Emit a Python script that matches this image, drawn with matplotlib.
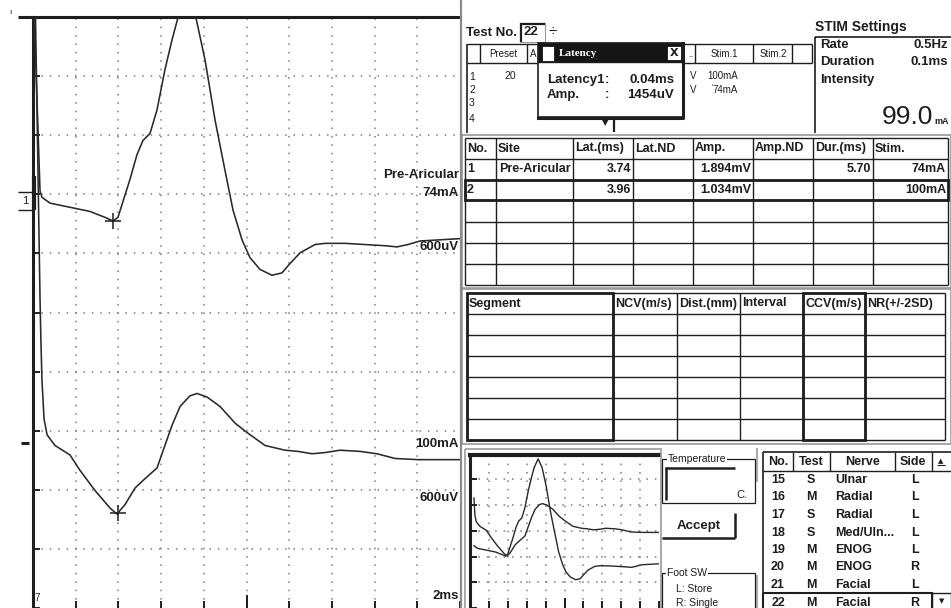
import numpy as np
import matplotlib
matplotlib.use("Agg")
import matplotlib.pyplot as plt
from matplotlib.patches import Rectangle

plt.rcParams["font.family"] = ["Liberation Sans Narrow", "Liberation Sans", "DejaVu Sans"]

W, H = 951, 608
INK = "#1e1e1e"
GRID = "#7a7a7a"

# ---- waveforms: time (ms), amplitude (mV) relative to each trace baseline ----
t1_ms = [0.00, 0.33, 0.42, 0.80, 1.87, 2.67, 3.37, 3.75, 3.98, 4.54, 4.87, 5.15,
         5.48, 5.81, 6.18, 6.51, 6.79, 7.21, 7.63, 8.06, 8.53, 8.99, 9.37, 9.79,
         10.16, 10.63, 11.19, 11.66, 12.04, 12.51, 13.21, 13.68, 14.61, 15.55,
         16.49, 17.05, 17.56, 18.13, 19.06, 20.00]
v1_mv = [1.84, 0.05, 0.00, -0.05, -0.09, -0.12, -0.17, -0.20, -0.17, 0.15, 0.36, 0.48,
         0.54, 0.74, 1.08, 1.33, 1.52, 1.69, 1.52, 1.16, 0.65, 0.23, -0.11, -0.36,
         -0.51, -0.61, -0.66, -0.64, -0.56, -0.47, -0.40, -0.39, -0.39, -0.40,
         -0.41, -0.42, -0.40, -0.37, -0.36, -0.35]

t2_ms = [0.09, 0.33, 0.37, 0.42, 0.52, 0.66, 1.03, 1.73, 2.20, 2.90, 3.61, 3.93,
         4.31, 4.78, 5.25, 5.81, 6.18, 6.51, 6.89, 7.35, 7.68, 8.15, 8.76, 9.46,
         10.02, 10.87, 11.80, 12.41, 13.07, 13.68, 14.38, 15.32, 16.11, 16.96,
         18.03, 20.00]
v2_mv = [3.92, 1.21, 0.87, 0.53, 0.20, 0.07, -0.02, -0.10, -0.23, -0.40, -0.55, -0.60,
         -0.52, -0.38, -0.30, -0.21, -0.02, 0.15, 0.31, 0.40, 0.42, 0.39, 0.31, 0.17,
         0.09, -0.02, -0.06, -0.07, -0.09, -0.08, -0.06, -0.07, -0.09, -0.13,
         -0.14, -0.14]

mv_per_div = 0.5
ms_per_div = 2.0
base_div = [6.95, 2.79]          # trace baselines on the main screen
mini_shift = [-4.53, 0.43]       # trace offsets on the overview screen
mini_start_ms = 0.4              # overview hides the stimulus artefact

# ---- tables ----
lat_ms = [3.74, 3.96]
res_headers = ["No.", "Site", "Lat.(ms)", "Lat.ND", "Amp.", "Amp.ND", "Dur.(ms)", "Stim."]
res_rows = [["1", "Pre-Aricular", "3.74", "", "1.894mV", "", "5.70", "74mA"],
            ["2", "", "3.96", "", "1.034mV", "", "", "100mA"]]
seg_headers = ["Segment", "NCV(m/s)", "Dist.(mm)", "Interval", "CCV(m/s)", "NR(+/-2SD)"]

list_no = ["15", "16", "17", "18", "19", "20", "21", "22"]
list_test = ["S", "M", "S", "S", "M", "M", "M", "M"]
list_nerve = ["Ulnar", "Radial", "Radial", "Med/Uln...", "ENOG", "ENOG", "Facial", "Facial"]
list_side = ["L", "L", "L", "L", "L", "R", "L", "R"]

preset_rows = ["1", "2", "3", "4"]
preset_stim1 = ["100mA", "74mA"]

fig = plt.figure(figsize=(W / 100, H / 100), dpi=100)
fig.patch.set_facecolor("white")


def px_axes(x0, x1, ytop, ybot):
    return fig.add_axes([x0 / W, 1 - ybot / H, (x1 - x0) / W, (ybot - ytop) / H])


def scope(ax, nx, ny_top):
    for i in range(1, nx):
        ax.axvline(i * ms_per_div, color=GRID, lw=1.1, ls=(0, (1, 4.5)), zorder=1)
    for j in range(1, ny_top):
        ax.axhline(j, color=GRID, lw=1.1, ls=(0, (1, 4.5)), zorder=1)
    ax.set_xlim(0, nx * ms_per_div)
    ax.set_xticks(np.arange(0, nx * ms_per_div + 0.1, ms_per_div))
    ax.set_yticks(range(0, ny_top + 1))
    ax.tick_params(direction="in", length=5, width=1.4, labelbottom=False,
                   labelleft=False, colors=INK)
    for s in ["right", "bottom"]:
        ax.spines[s].set_visible(False)
    ax.spines["top"].set_linewidth(2.2)
    ax.spines["left"].set_linewidth(2.2)
    ax.spines["top"].set_color(INK)
    ax.spines["left"].set_color(INK)


# ---- main waveform screen ----
ax = px_axes(33, 460, 17, 608)
scope(ax, 10, 10)
ax.set_ylim(0, 10)
ax.plot([10, 10], [0, 0.2], color=INK, lw=1.4)
for t, v, b in [(t1_ms, v1_mv, base_div[0]), (t2_ms, v2_mv, base_div[1])]:
    y = b + np.array(v) / mv_per_div
    ax.plot(t, y, color="#2a2a2a", lw=1.15, zorder=3)
for lat, t, v, b in [(lat_ms[0], t1_ms, v1_mv, base_div[0]), (lat_ms[1], t2_ms, v2_mv, base_div[1])]:
    ax.plot(lat, b + np.interp(lat, t, v) / mv_per_div, marker="+", ms=11, mew=1.1,
            color=INK, zorder=4)

# ---- overview screen ----
ax2 = px_axes(470, 659, 455, 608)
scope(ax2, 10, 6)
ax2.set_ylim(0.0, 5.95)
ax2.spines["top"].set_linewidth(3)
ax2.plot([10, 10], [0, 0.35], color=INK, lw=1.4)
for t, v, b, s in [(t1_ms, v1_mv, base_div[0], mini_shift[0]), (t2_ms, v2_mv, base_div[1], mini_shift[1])]:
    t = np.array(t)
    keep = t >= mini_start_ms
    ax2.plot(t[keep], b + s + np.array(v)[keep] / mv_per_div, color="#2a2a2a", lw=1.0, zorder=3)

# ---- pixel overlay for the program chrome ----
ui = fig.add_axes([0, 0, 1, 1])
ui.set_xlim(0, W)
ui.set_ylim(H, 0)
ui.axis("off")
ui.patch.set_alpha(0)


def hl(y, x0, x1, lw=1.0, c=INK):
    ui.plot([x0, x1], [y, y], color=c, lw=lw, solid_capstyle="butt")


def vl(x, y0, y1, lw=1.0, c=INK):
    ui.plot([x, x], [y0, y1], color=c, lw=lw, solid_capstyle="butt")


def tx(x, y, s, size=9, ha="left", weight="bold", **kw):
    ui.text(x, y, s, fontsize=size, ha=ha, va="center", weight=weight, color=kw.pop("color", INK), **kw)


# labels on the main screen
tx(459, 175, "Pre-Aricular", 9.5, "right")
tx(459, 193, "74mA", 9.5, "right")
tx(459, 247, "600uV", 9.5, "right")
tx(459, 444, "100mA", 9.5, "right")
tx(459, 498, "600uV", 9.5, "right")
tx(459, 596, "2ms", 9.5, "right")
hl(17, 18, 34, 2.2)
hl(192, 18, 33, 1.0)
hl(210, 18, 33, 1.0)
tx(22, 201, "1", 8, weight="normal")
vl(33.5, 176, 210, 3)
hl(443, 21, 29, 2.2)
tx(9, 13, "ı", 6, weight="normal")
tx(34, 598, "7", 7, weight="normal")

# panel border
vl(461, 0, 608, 1.6, "#8c8c8c")

# Test No. + preset table
tx(466, 33, "Test No.", 9.5)
ui.add_patch(Rectangle((520, 23), 25, 19, fill=False, lw=0.8, ec="#999"))
vl(520.5, 23, 42, 1.6)
hl(23.5, 520, 545, 1.6)
tx(524, 32, "22", 9.5)
tx(553, 32, "÷", 11, "center", weight="normal")
hl(44, 467, 812, 1.0)
hl(63, 467, 812, 1.0)
vl(467, 44, 133, 1.2)
for x in [480, 527, 695, 753, 792, 812]:
    vl(x, 44, 63, 1.0)
tx(503, 54, "Preset", 7, "center", weight="normal")
tx(530, 54, "A", 7, weight="normal")
tx(688, 54, "..", 7, weight="normal")
tx(724, 54, "Stim.1", 7, "center", weight="normal")
tx(773, 54, "Stim.2", 7, "center", weight="normal")
for y, r in zip([77, 90, 103, 119], preset_rows):
    tx(469, y, r, 7.5, weight="normal")
tx(510, 76, "20", 7.5, "center", weight="normal")
for y, s in zip([76, 90], preset_stim1):
    tx(690, y, "V", 7, weight="normal")
    tx(738, y, s, 7, "right", weight="normal")
tx(712, 87, "'", 6, weight="normal")
tx(605, 123, "▼", 6, "center", weight="normal", family="DejaVu Sans")
vl(614, 117, 132, 1.6)

# Latency popup
ui.add_patch(Rectangle((538, 43), 145, 74, fc="white", ec=INK, lw=1.2, zorder=5))
ui.add_patch(Rectangle((538, 43), 145, 19, fc="#151515", ec=INK, lw=1.0, zorder=6))
ui.add_patch(Rectangle((542, 46), 12, 15, fc="white", ec="#151515", lw=0.6, zorder=7))
ui.add_patch(Rectangle((667, 46), 14, 14, fc="white", ec="#151515", lw=0.6, zorder=7))
ui.text(674, 53, "X", fontsize=8, ha="center", va="center", weight="bold", color=INK, zorder=8,
        family="DejaVu Sans")
ui.text(559, 53, "Latency", fontsize=8, ha="left", va="center", weight="bold", color="white",
        zorder=8, family="Liberation Serif")
for y, a, b in [(80, "Latency1", "0.04ms"), (95, "Amp.", "1454uV")]:
    ui.text(547, y, a, fontsize=9.5, ha="left", va="center", weight="bold", color=INK, zorder=8)
    ui.text(607, y, ":", fontsize=9.5, ha="center", va="center", weight="bold", color=INK, zorder=8)
    ui.text(674, y, b, fontsize=9.5, ha="right", va="center", weight="bold", color=INK, zorder=8)
ui.plot([538, 683, 683], [117.5, 117.5, 43], color=INK, lw=2.2, zorder=8)

# STIM settings
tx(815, 27, "STIM Settings", 10)
hl(37, 815, 951, 1.2)
vl(815, 37, 133, 1.2)
tx(820, 45, "Rate", 9.5)
tx(948, 45, "0.5Hz", 9.5, "right")
tx(820, 62, "Duration", 9.5)
tx(948, 62, "0.1ms", 9.5, "right")
tx(820, 80, "Intensity", 9.5)
ui.text(933, 124, "99.0", fontsize=19, ha="right", va="baseline", color=INK,
        family=["Liberation Sans", "DejaVu Sans"])
ui.text(934, 124, "mA", fontsize=6.5, ha="left", va="baseline", weight="bold", color=INK)

# results table
res_cols = [465, 496, 573, 633, 693, 753, 813, 873, 948]
res_lines = [138, 159, 180, 200, 222, 243, 264, 285]
ui.add_patch(Rectangle((462, 135), 489, 153, fill=False, ec="#9a9a9a", lw=1.2))
for y in res_lines:
    hl(y, res_cols[0], res_cols[-1], 1.0)
for x in res_cols:
    vl(x, res_lines[0], res_lines[-1], 1.0)
ui.add_patch(Rectangle((465, 180), 483, 20, fill=False, ec=INK, lw=2.0))
for i, h in enumerate(res_headers):
    tx(res_cols[i] + 2, 148.5, h, 9)
for r, row in enumerate(res_rows):
    y = (res_lines[r + 1] + res_lines[r + 2]) / 2
    for i, s in enumerate(row):
        if i < 2:
            tx(res_cols[i] + 2 + (1 if i == 1 else 0), y, s, 9)
        else:
            tx(res_cols[i + 1] - 2, y, s, 9, "right")

# segment table
seg_cols = [467, 613, 677, 740, 803, 865, 945]
seg_lines = [293, 314, 335, 356, 377, 398, 419, 440]
ui.add_patch(Rectangle((462, 289), 489, 155, fill=False, ec="#9a9a9a", lw=1.2))
for y in seg_lines:
    hl(y, seg_cols[0], seg_cols[-1], 1.0)
for x in seg_cols:
    vl(x, seg_lines[0], seg_lines[-1], 1.0)
ui.add_patch(Rectangle((467, 293), 146, 147, fill=False, ec=INK, lw=2.0))
ui.add_patch(Rectangle((803, 293), 62, 147, fill=False, ec=INK, lw=2.0))
for i, h in enumerate(seg_headers):
    tx(seg_cols[i] + 2, 303.5, h, 9)

# overview frame
ui.add_patch(Rectangle((465, 449), 196, 165, fill=False, ec="#9a9a9a", lw=1.2))

# Temperature / Accept / Foot SW
ui.add_patch(Rectangle((662, 459), 93, 44, fill=False, ec=INK, lw=0.9))
tx(668, 459, "Temperature", 7.5, weight="normal", bbox=dict(fc="white", ec="none", pad=0.5))
vl(665.5, 467, 500, 1.8)
hl(467.5, 665, 735, 1.8)
tx(742, 495, "C.", 8, "center", weight="normal")
vl(735, 513, 538, 1.8)
hl(538, 662, 735, 1.8)
tx(699, 526, "Accept", 9.5, "center")
ui.add_patch(Rectangle((662, 573), 93, 45, fill=False, ec=INK, lw=0.9))
tx(667, 573, "Foot SW", 7.5, weight="normal", bbox=dict(fc="white", ec="none", pad=0.5))
tx(676, 589, "L: Store", 7.5, weight="normal")
tx(676, 603, "R: Single", 7.5, weight="normal")
vl(757, 448, 482, 1.2, "#9a9a9a")
vl(757, 575, 608, 1.2, "#9a9a9a")

# test list
lst_cols = [763, 793, 830, 895, 932, 951]
hl(452, 763, 951, 1.2)
hl(471, 763, 951, 1.0)
vl(763, 452, 608, 1.2)
for x in lst_cols[1:5]:
    vl(x, 452, 471, 1.0)
tx(778, 462, "No.", 9, "center")
tx(811, 462, "Test", 9, "center")
tx(862, 462, "Nerve", 9, "center")
tx(913, 462, "Side", 9, "center")
tx(941, 461, "▲", 5, "center", weight="normal", family="DejaVu Sans")
hl(464.5, 937, 945, 0.8)
for i in range(len(list_no)):
    y = 480 + 17.5 * i
    tx(778, y, list_no[i], 9, "center")
    tx(811, y, list_test[i], 9, "center")
    tx(835, y, list_nerve[i], 9)
    tx(915, y, list_side[i], 9, "center")
ui.add_patch(Rectangle((763, 593), 169, 17, fill=False, ec=INK, lw=1.5))
ui.add_patch(Rectangle((932, 593), 19, 17, fill=False, ec=INK, lw=1.0))
tx(942, 601, "▼", 5, "center", weight="normal", family="DejaVu Sans")

fig.savefig("out.png", dpi=100)
